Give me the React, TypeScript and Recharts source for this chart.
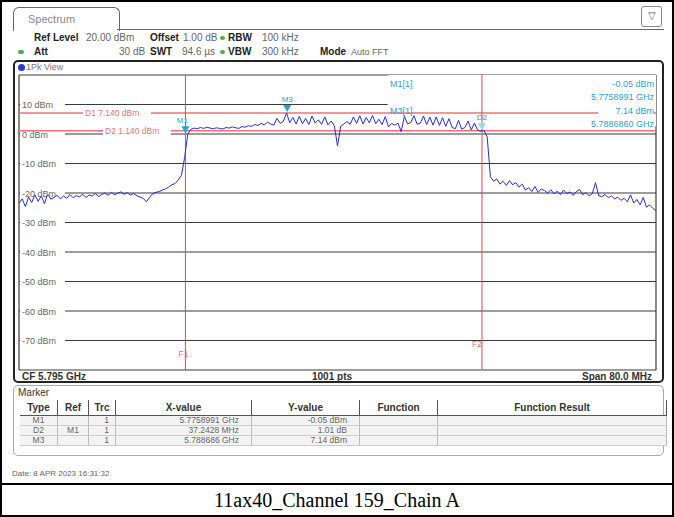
import React from 'react'
import {
  CartesianGrid,
  Line,
  LineChart,
  ReferenceArea,
  ReferenceDot,
  ReferenceLine,
  XAxis,
  YAxis,
} from 'recharts'

// sweep grid: CF 5.795 GHz, span 80 MHz, read every 0.4 MHz
const startMHz = 5755
const stepMHz = 0.4
const freqTicks = [5755, 5763, 5771, 5779, 5787, 5795, 5803, 5811, 5819, 5827, 5835]
const levelTicks = [20, 10, 0, -10, -20, -30, -40, -50, -60, -70, -80]
const levelLabels = [10, 0, -10, -20, -30, -40, -50, -60, -70]

// trace (dBm)
const skirtLow = [
  -23.5, -22.0, -24.6, -21.4, -23.2, -20.6, -22.8, -21.0, -23.6, -20.2, -22.1,
  -21.5, -20.8, -22.0, -21.0, -21.8, -20.5, -21.6, -20.9, -21.3, -20.4, -21.5, -20.7, -21.0, -20.2, -21.2,
  -20.5, -20.0, -20.8, -19.8, -20.6, -20.1, -19.6, -20.4, -19.9, -20.7, -20.2, -20.9, -21.4, -21.8,
  -23.0, -21.5, -20.2, -19.8, -19.5, -19.0, -18.6, -18.0, -17.2, -16.8, -15.6, -14.0, -8.0,
]
const inBand = [
  0.0, 1.6, 2.0, 1.8, 2.2, 1.9, 2.3, 2.0, 1.8, 2.1,
  1.9, 1.7, 2.2, 2.0, 2.4, 2.1, 1.9, 2.5, 2.3, 2.8,
  2.6, 3.2, 2.9, 3.6, 3.1, 4.0, 3.4, 3.0, 5.3, 3.6,
  4.3, 7.14, 3.8, 5.6, 3.4, 6.0, 3.5, 5.3, 3.2, 6.1,
  3.7, 4.8, 3.3, 5.8, 3.1, 4.4, 2.8, -4.0, 2.6, 3.4,
  4.2, 3.3, 5.8, 3.6, 6.2, 3.4, 5.6, 3.8, 6.3, 3.5,
  5.0, 3.2, 5.9, 2.4, 3.6, 3.0, 3.7, 0.8, 6.0, 3.4,
  3.9, 6.2, 3.3, 3.7, 6.1, 3.2, 5.7, 3.0, 5.8, 2.9,
  5.5, 2.6, 5.2, 2.2, 1.8, 4.6, 1.6, 2.2, 4.4, 1.4,
  3.7, 1.3, 1.0,
]
const skirtHigh = [
  1.2, -1.0, -14.5, -16.0, -15.2, -17.0, -16.0, -17.4, -15.8, -17.2,
  -16.5, -18.0, -17.0, -19.0, -18.2, -19.5, -17.8, -19.8, -18.6, -19.2,
  -20.0, -18.9, -20.3, -19.4, -20.5, -19.0, -20.2, -19.6, -20.8, -19.5,
  -18.8, -20.6, -19.9, -21.0, -20.2, -16.5, -20.9, -21.2, -20.5, -21.6,
  -21.0, -22.0, -21.4, -22.5, -21.8, -23.0, -20.6, -23.4, -22.2, -24.0,
  -21.5, -24.8, -24.0, -25.2, -26.0,
]

const markerNames = ['M1', 'D2', 'M3']
const markerFreqs = [5775.8991, 5813.1419, 5788.686]
const markerLevels = [-0.05, 0.96, 7.14]

const displayLineNames = ['D1', 'D2']
const displayLineLevels = [7.14, 1.14]
const freqLineNames = ['F1', 'F2']
const freqLineValues = [5775.8991, 5813.1419]

const traceData = [...skirtLow, ...inBand, ...skirtHigh].map((level, i) => ({
  freq: +(startMHz + i * stepMHz).toFixed(2),
  level,
}))

const sans = '"Liberation Sans", Arial, sans-serif'
const teal = '#2f9fd0'
const pink = '#f0707c'

const Txt = ({ x, y, children, style }: any) => (
  <div style={{ position: 'absolute', left: x, top: y, whiteSpace: 'nowrap', fontFamily: sans, fontSize: 10, lineHeight: '12px', ...style }}>
    {children}
  </div>
)

const LevelTick = (props: any) => {
  const { y, payload } = props
  if (!levelLabels.includes(payload.value)) return <g />
  return (
    <g>
      <rect x={6} y={y - 1.5} width={45} height={3} fill='#fff' />
      <text x={8} y={y + 3.5} fontSize={9} fill='#666' fontFamily={sans}>{payload.value} dBm</text>
    </g>
  )
}

const markerShape = (name: string) => (props: any) => {
  const { cx, cy } = props
  const light = name === 'D2'
  return (
    <g>
      <polygon points={`${cx - 4},${cy - 8} ${cx + 4},${cy - 8} ${cx},${cy - 1}`} fill={light ? '#9fd4ee' : teal} />
      <text x={cx - (name === 'M1' ? 3 : 0)} y={cy - 11} fontSize={8} fill={teal} textAnchor='middle' fontFamily={sans}>{name}</text>
    </g>
  )
}

const dispLabel = (name: string, level: number, dx: number) => (props: any) => {
  const { viewBox } = props
  const label = `${name}  ${level.toFixed(3)} dBm`
  return (
    <g>
      <rect x={viewBox.x + dx - 2} y={viewBox.y - 5} width={68} height={10} fill='#fff' />
      <text x={viewBox.x + dx} y={viewBox.y + 3} fontSize={8.5} fill={pink} fontFamily={sans}>{label}</text>
    </g>
  )
}

const freqLabel = (name: string, up: number, dx: number) => (props: any) => {
  const { viewBox } = props
  return (
    <text x={viewBox.x + dx} y={viewBox.y + viewBox.height - up} fontSize={8.5} fill={pink} textAnchor='middle' fontFamily={sans}>{name}</text>
  )
}

const headerBold = { fontWeight: 'bold', color: '#222' }
const headerVal = { color: '#666' }

const colWidths = [37, 30, 26, 135, 107, 77, 228]
const tableHead = ['Type', 'Ref', 'Trc', 'X-value', 'Y-value', 'Function', 'Function Result']
const tableRows = [
  ['M1', '', '1', '5.7758991 GHz', '-0.05 dBm', '', ''],
  ['D2', 'M1', '1', '37.2428 MHz', '1.01 dB', '', ''],
  ['M3', '', '1', '5.788686 GHz', '7.14 dBm', '', ''],
]
const cellAlign = ['center', 'center', 'right', 'right', 'right', 'left', 'left']

const App = () => {
  return (
    <div style={{ position: 'absolute', left: 0, top: 0, width: 674, height: 517, background: '#fff', border: '2px solid #000', boxSizing: 'border-box', overflow: 'hidden' }}>
      {/* tab */}
      <div style={{ position: 'absolute', left: 11, top: 5, width: 105, height: 23, border: '1px solid #666', borderBottom: 'none', borderRadius: '6px 6px 0 0' }} />
      <Txt x={26} y={11} style={{ fontSize: 11, color: '#888' }}>Spectrum</Txt>
      <div style={{ position: 'absolute', left: 115, top: 27, width: 547, height: 1, background: '#666' }} />
      <div style={{ position: 'absolute', left: 639, top: 4, width: 19, height: 19, border: '1px solid #888', borderRadius: 3, fontSize: 10, textAlign: 'center', lineHeight: '18px', color: '#555', fontFamily: sans }}>▽</div>

      {/* settings rows */}
      <Txt x={32} y={30} style={headerBold}>Ref Level</Txt>
      <Txt x={84} y={30} style={headerVal}>20.00 dBm</Txt>
      <Txt x={148} y={30} style={headerBold}>Offset</Txt>
      <Txt x={181} y={30} style={headerVal}>1.00 dB</Txt>
      <div style={{ position: 'absolute', left: 218, top: 34, width: 5, height: 4, background: '#4caf50', borderRadius: 2 }} />
      <Txt x={226} y={30} style={headerBold}>RBW</Txt>
      <Txt x={260} y={30} style={headerVal}>100 kHz</Txt>

      <div style={{ position: 'absolute', left: 16, top: 48, width: 6, height: 4, background: '#4caf50', borderRadius: 2 }} />
      <Txt x={32} y={44} style={headerBold}>Att</Txt>
      <Txt x={117} y={44} style={headerVal}>30 dB</Txt>
      <Txt x={148} y={44} style={headerBold}>SWT</Txt>
      <Txt x={180} y={44} style={headerVal}>94.6 µs</Txt>
      <div style={{ position: 'absolute', left: 218, top: 48, width: 5, height: 4, background: '#4caf50', borderRadius: 2 }} />
      <Txt x={226} y={44} style={headerBold}>VBW</Txt>
      <Txt x={260} y={44} style={headerVal}>300 kHz</Txt>
      <Txt x={318} y={44} style={headerBold}>Mode</Txt>
      <Txt x={349} y={44} style={{ ...headerVal, fontSize: 9 }}>Auto FFT</Txt>

      {/* diagram frame */}
      <div style={{ position: 'absolute', left: 11, top: 58, width: 651, height: 323, border: '2px solid #222', borderRadius: 5, boxSizing: 'border-box' }} />
      <div style={{ position: 'absolute', left: 16, top: 62, width: 7, height: 7, background: '#2a3ad0', borderRadius: 4 }} />
      <Txt x={24} y={59} style={{ fontSize: 9, color: '#777' }}>1Pk View</Txt>

      <LineChart
        width={650}
        height={322}
        data={traceData}
        margin={{ top: 15, right: 8, bottom: 12, left: 5 }}
        style={{ position: 'absolute', left: 12, top: 58 }}
      >
        <CartesianGrid stroke='#3a3a3a' strokeWidth={1.2} />
        <XAxis dataKey='freq' type='number' domain={[5755, 5835]} ticks={freqTicks} height={0} tick={false} axisLine={false} tickLine={false} />
        <YAxis type='number' domain={[-80, 20]} ticks={levelTicks} width={50} mirror interval={0} axisLine={false} tickLine={false} tick={LevelTick} />
        <ReferenceArea x1={5801.3} x2={5835} y1={2.6} y2={20} fill='#fff' fillOpacity={1} stroke='none' />
        {displayLineLevels.map((lv, i) => (
          <ReferenceLine key={displayLineNames[i]} y={lv} stroke={pink} strokeWidth={1.5}
            label={dispLabel(displayLineNames[i], lv, i === 0 ? 66 : 86)} />
        ))}
        {freqLineValues.map((f, i) => (
          <ReferenceLine key={freqLineNames[i]} x={f} stroke='#f04050' strokeWidth={1}
            label={freqLabel(freqLineNames[i], i === 0 ? 13 : 23, i === 0 ? -2 : -5)} />
        ))}
        <Line dataKey='level' stroke='#2b2bd8' strokeWidth={1} dot={false} isAnimationActive={false} />
        {markerNames.map((n, i) => (
          <ReferenceDot key={n} x={markerFreqs[i]} y={markerLevels[i]} shape={markerShape(n)} />
        ))}
      </LineChart>

      {/* marker readout */}
      <Txt x={388} y={76} style={{ fontSize: 9, color: teal }}>M1[1]</Txt>
      <Txt x={388} y={103} style={{ fontSize: 9, color: teal }}>M3[1]</Txt>
      <Txt x={596} y={76} style={{ fontSize: 9, color: teal, width: 56, textAlign: 'right', background: '#fff' }}>-0.05 dBm</Txt>
      <Txt x={570} y={89} style={{ fontSize: 9, color: teal, width: 82, textAlign: 'right', background: '#fff' }}>5.7758991 GHz</Txt>
      <Txt x={596} y={103} style={{ fontSize: 9, color: teal, width: 56, textAlign: 'right', background: '#fff' }}>7.14 dBm</Txt>
      <Txt x={570} y={116} style={{ fontSize: 9, color: teal, width: 82, textAlign: 'right', background: '#fff' }}>5.7886860 GHz</Txt>

      {/* bottom line of diagram */}
      <Txt x={20} y={369} style={{ fontSize: 10, fontWeight: 'bold', color: '#333' }}>CF 5.795 GHz</Txt>
      <Txt x={310} y={369} style={{ fontSize: 10, fontWeight: 'bold', color: '#333' }}>1001 pts</Txt>
      <Txt x={560} y={369} style={{ fontSize: 10, fontWeight: 'bold', color: '#333', width: 90, textAlign: 'right' }}>Span 80.0 MHz</Txt>

      {/* marker table */}
      <div style={{ position: 'absolute', left: 11, top: 383, width: 651, height: 71, border: '1px solid #aaa', borderRadius: 5, boxSizing: 'border-box' }} />
      <Txt x={16} y={385} style={{ fontSize: 10, color: '#333' }}>Marker</Txt>
      <table style={{ position: 'absolute', left: 18, top: 398, borderCollapse: 'collapse', fontFamily: sans, tableLayout: 'fixed' }}>
        <tbody>
          <tr style={{ height: 15 }}>
            {tableHead.map((h, i) => (
              <td key={h} style={{ width: colWidths[i], padding: 0, fontSize: 10, fontWeight: 'bold', color: '#333', textAlign: 'center', borderLeft: i ? '1px solid #555' : 'none', borderRight: i === 6 ? '1px solid #555' : 'none', borderBottom: '1px solid #555' }}>{h}</td>
            ))}
          </tr>
          {tableRows.map((r, ri) => (
            <tr key={ri} style={{ height: 10, background: '#f3f3f3' }}>
              {r.map((c, i) => (
                <td key={i} style={{ width: colWidths[i], padding: i === 3 || i === 4 ? '0 12px 0 0' : i === 2 ? '0 6px 0 0' : 0, fontSize: 8.5, lineHeight: '9px', color: '#666', textAlign: cellAlign[i] as any, borderLeft: i ? '1px solid #bbb' : 'none', borderRight: i === 6 ? '1px solid #bbb' : 'none', borderBottom: '1px solid #ccc', boxSizing: 'border-box' }}>{c}</td>
              ))}
            </tr>
          ))}
        </tbody>
      </table>

      <Txt x={10} y={466} style={{ fontSize: 8, color: '#666' }}>Date: 8 APR 2023  16:31:32</Txt>

      {/* caption */}
      <div style={{ position: 'absolute', left: 0, top: 481, width: 670, height: 2, background: '#000' }} />
      <div style={{ position: 'absolute', left: 0, top: 483, width: 670, height: 30, textAlign: 'center', fontFamily: '"Liberation Serif", "Times New Roman", serif', fontSize: 20, lineHeight: '30px', color: '#000' }}>
        11ax40_Channel 159_Chain A
      </div>
    </div>
  )
}

export default App
